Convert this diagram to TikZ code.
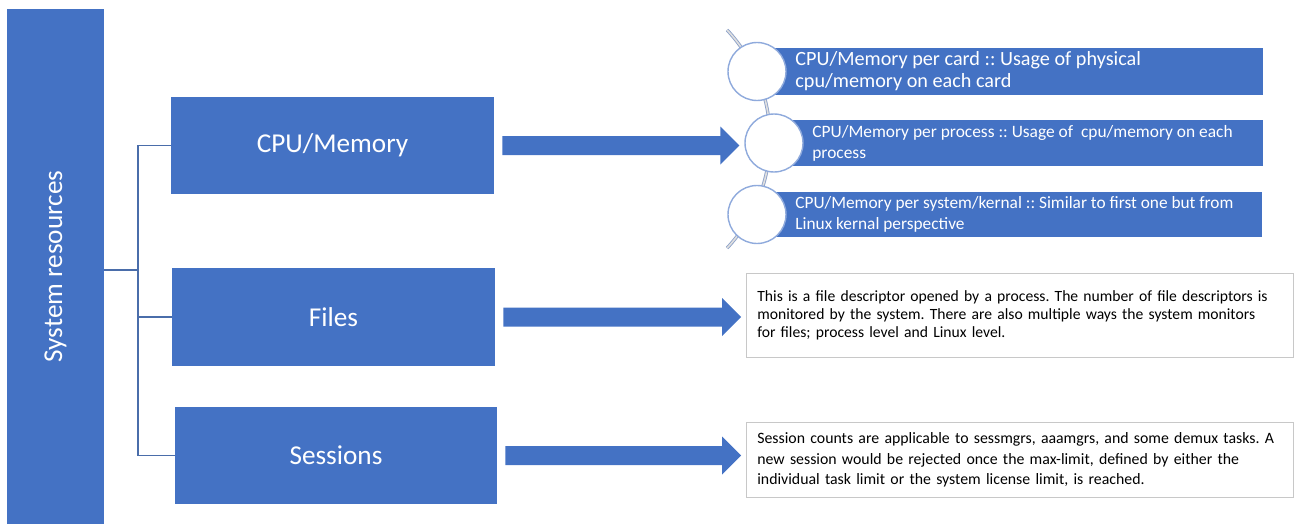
\documentclass[tikz,border=0pt]{standalone}
\usepackage{fontspec}
\setmainfont{Carlito}
\frenchspacing
\usetikzlibrary{positioning,calc}
\definecolor{boxblue}{HTML}{4472C4}
\definecolor{treeline}{HTML}{4A6DAA}
\definecolor{ringblue}{HTML}{8FAADC}
\definecolor{framegray}{HTML}{C8C8C8}
\begin{document}
\begin{tikzpicture}[x=0.02cm,y=-0.02cm]

\tikzstyle{block} = [
	fill=boxblue, rectangle, inner sep=0pt, text=white,
	font=\fontsize{15.5}{18}\selectfont ];
\tikzstyle{bar} = [
	fill=boxblue, rectangle, inner sep=0pt, anchor=west ];
\tikzstyle{bartext} = [
	text=white, align=left, anchor=west, inner sep=0pt ];
\tikzstyle{ring} = [
	draw=ringblue, line width=0.8pt, fill=white, circle,
	minimum size=1.16cm, inner sep=0pt ];
\tikzstyle{note} = [
	draw=framegray, fill=white, rectangle, anchor=north west,
	inner xsep=0.22cm, inner ysep=0.16cm, align=left ];
\tikzstyle{tree} = [draw=treeline, line width=0.7pt];
\newcommand{\blockarrow}[2]{%
  \fill[boxblue] ($(#1.east)+(8,-9.5)$) -- ($(#1.east -| #2.west)+(-24,-9.5)$)
    -- ($(#1.east -| #2.west)+(-24,-19)$) -- ($(#1.east -| #2.west)+(-5,0)$)
    -- ($(#1.east -| #2.west)+(-24,19)$) -- ($(#1.east -| #2.west)+(-24,9.5)$)
    -- ($(#1.east)+(8,9.5)$) -- cycle;}

\useasboundingbox (0,0) rectangle (1295,524);

\node[block, minimum width=1.94cm, minimum height=10.3cm] (sys) at (55.5,266.5)
  {\rotatebox{90}{System resources}};

\node[block, minimum width=6.46cm, minimum height=1.94cm] (cpu) at (332.5,145.5) {CPU/Memory};
\node[block, minimum width=6.46cm, minimum height=1.96cm] (files) at (333.5,317) {Files};
\node[block, minimum width=6.44cm, minimum height=1.94cm] (sess) at (336,455.5) {Sessions};

\coordinate (fork) at (138,0);
\draw[tree] (sys.east |- 0,270) -- (fork |- 0,270);
\draw[tree] (cpu.west) -- (cpu.west -| fork) |- (sess.west);
\draw[tree] (files.west) -- (files.west -| fork);

% cpu/memory details
\node[bar, minimum width=10.12cm, minimum height=0.94cm] (bar1) at (757,71.5) {};
\node[bar, minimum width=9.78cm, minimum height=0.92cm] (bar2) at (774,143) {};
\node[bar, minimum width=10.1cm, minimum height=0.9cm] (bar3) at (757,214.5) {};

\coordinate (hub) at (610,139);
\draw[draw=ringblue!80!gray, double=gray!25, double distance=0.9pt, line width=0.5pt]
  ($(hub)+(-43:160)$) arc[start angle=-43, end angle=43, radius=160];
\node[ring] (dot1) at (bar1.west) {};
\node[ring] (dot2) at (bar2.west) {};
\node[ring] (dot3) at (bar3.west) {};

\node[bartext, font=\fontsize{11.5}{12.6}\selectfont] (txt1) at ($(bar1.west)+(38,0)$)
  {CPU/Memory per card :: Usage of physical\\cpu/memory on each card};
\node[bartext, font=\fontsize{9.9}{11.8}\selectfont] (txt2) at ($(bar2.west)+(38,0)$)
  {CPU/Memory per process :: Usage of \ cpu/memory on each\\process};
\node[bartext, font=\fontsize{9.85}{11.8}\selectfont] (txt3) at ($(bar3.west)+(38,0)$)
  {CPU/Memory per system/kernal :: Similar to first one but from\\Linux kernal perspective};

% files / sessions notes
\node[note, minimum width=10.94cm, minimum height=1.68cm, text width=10.5cm,
  font=\fontsize{8.9}{10.5}\selectfont] (fnote) at (746,273)
  {This is a file descriptor opened by a process. The number of file descriptors is\\
   monitored by the system. There are also multiple ways the system monitors\\
   for files; process level and Linux level.};
\node[note, minimum width=10.94cm, minimum height=1.5cm, text width=10.5cm,
  font=\fontsize{9}{11.5}\selectfont] (snote) at (746,422)
  {Session counts are applicable to sessmgrs, aaamgrs, and some demux tasks. A\\
   new session would be rejected once the max-limit, defined by either the\\
   individual task limit or the system license limit, is reached.};

\blockarrow{cpu}{dot2}
\blockarrow{files}{fnote}
\blockarrow{sess}{snote}

\end{tikzpicture}
\end{document}
